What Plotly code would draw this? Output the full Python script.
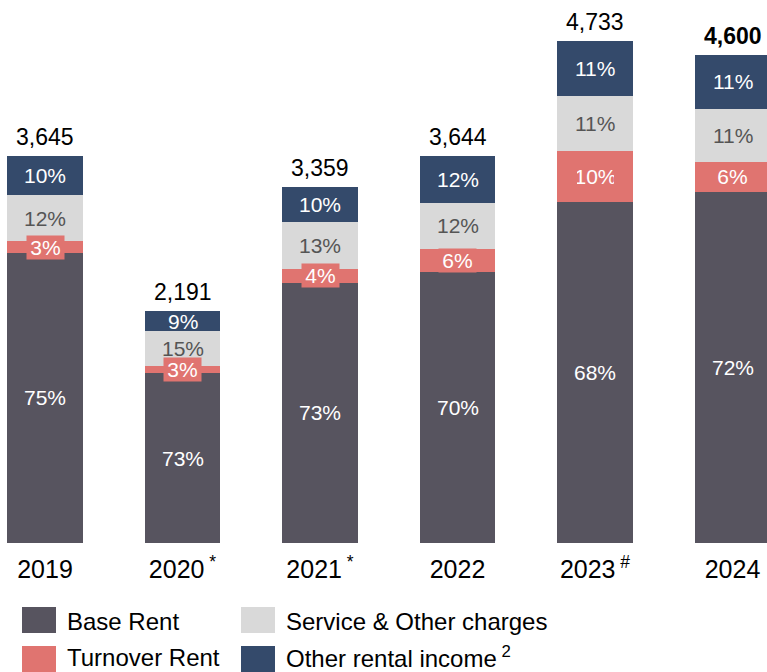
import plotly.graph_objects as go

# Rental income mix by year (stacked shares of the yearly total)
years = ["2019", "2020", "2021", "2022", "2023", "2024"]
year_marks = ["", "*", "*", "", "#", ""]
totals = [3645, 2191, 3359, 3644, 4733, 4600]

base_pct = [75, 73, 73, 70, 68, 72]
turnover_pct = [3, 3, 4, 6, 10, 6]
service_pct = [12, 15, 13, 12, 11, 11]
other_pct = [10, 9, 10, 12, 11, 11]

series = [
    ("Base Rent", base_pct, "#57545f", "white"),
    ("Turnover Rent", turnover_pct, "#e07470", "white"),
    ("Service & Other charges", service_pct, "#d9d9d9", "#555555"),
    ("Other rental income", other_pct, "#344a6b", "white"),
]

FONT = "Liberation Sans, Arial, sans-serif"
W, H = 767, 672
PLOT_BOTTOM = 543  # pixel row of the x axis

x_idx = list(range(len(years)))
fig = go.Figure()

cum = [0.0] * len(years)
annotations = []
for name, pcts, color, txt_color in series:
    vals = [t * p / 100 for t, p in zip(totals, pcts)]
    fig.add_trace(go.Bar(
        x=x_idx, y=vals, name=name, marker_color=color,
        marker_line_width=0, showlegend=False, hoverinfo="skip",
    ))
    for i, (v, p) in enumerate(zip(vals, pcts)):
        ann = dict(
            x=i, y=cum[i] + v / 2, xref="x", yref="y",
            text=f"{p}%", showarrow=False,
            font=dict(family=FONT, size=21, color=txt_color),
            xanchor="center", yanchor="middle",
        )
        if name == "Turnover Rent":
            ann.update(bgcolor=color, width=37, height=23, borderpad=0)
        annotations.append(ann)
        cum[i] += v

# Totals above each bar; the latest year is emphasised
for i, t in enumerate(totals):
    last = i == len(totals) - 1
    annotations.append(dict(
        x=i, y=t, xref="x", yref="y",
        text=f"<b>{t:,}</b>" if last else f"{t:,}", showarrow=False,
        font=dict(family=FONT, size=23, color="black"),
        xanchor="center", yanchor="middle", yshift=19,
    ))

# Legend drawn as a 2x2 grid of swatches: (label, colour, left px, top px, text centre px)
legend_items = [
    ("Base Rent", "#57545f", 22, 607, 621),
    ("Service & Other charges", "#d9d9d9", 241, 607, 621),
    ("Turnover Rent", "#e07470", 22, 646, 657),
    ("Other rental income<sup> 2</sup>", "#344a6b", 241, 646, 657),
]
plot_h = PLOT_BOTTOM
shapes = []
for label, color, px, py, ty in legend_items:
    shapes.append(dict(
        type="rect", xref="paper", yref="paper",
        x0=px / W, x1=(px + 34) / W,
        y0=(PLOT_BOTTOM - py) / plot_h, y1=(PLOT_BOTTOM - py - 26) / plot_h,
        fillcolor=color, line_width=0,
    ))
    annotations.append(dict(
        x=(px + 43) / W, y=(PLOT_BOTTOM - ty) / plot_h,
        xref="paper", yref="paper", text=label, showarrow=False,
        font=dict(family=FONT, size=24, color="black"),
        xanchor="left", yanchor="middle",
    ))

tick_text = [f"{y}<sup> {m}</sup>" if m else y for y, m in zip(years, year_marks)]

fig.update_layout(
    width=W, height=H,
    margin=dict(l=0, r=0, t=0, b=H - PLOT_BOTTOM),
    barmode="stack", bargap=0.448,
    plot_bgcolor="white", paper_bgcolor="white",
    font=dict(family=FONT, color="black"),
    xaxis=dict(
        tickvals=x_idx, ticktext=tick_text, range=[-0.3273, 5.2509],
        showgrid=False, zeroline=False, showline=False, ticks="",
        tickfont=dict(family=FONT, size=25, color="black"),
        ticklabelstandoff=9,
    ),
    yaxis=dict(range=[0, 5118], visible=False, showgrid=False),
    annotations=annotations, shapes=shapes,
    showlegend=False,
)

fig.write_html("out.html")
